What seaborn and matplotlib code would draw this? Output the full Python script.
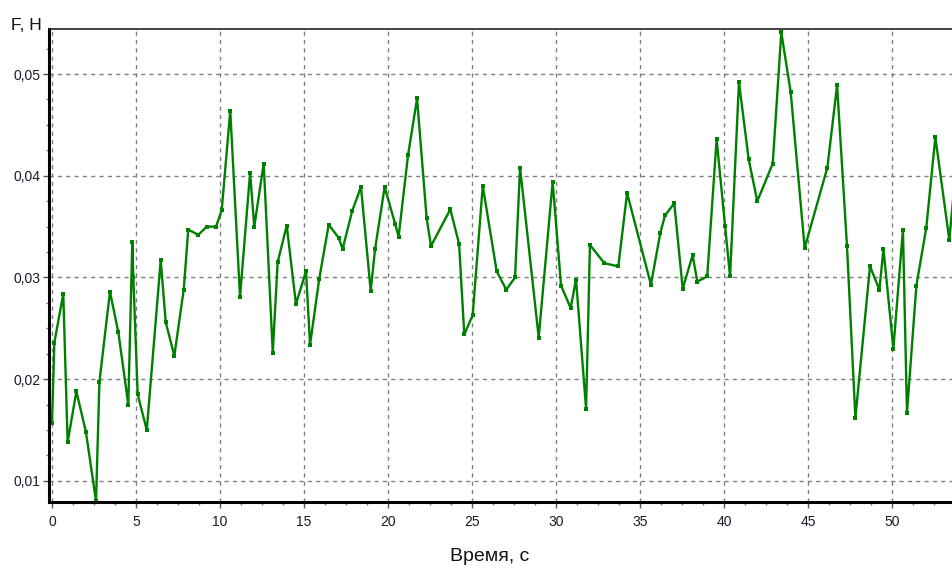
import seaborn as sns
import pandas as pd
import matplotlib.pyplot as plt
from matplotlib.ticker import MultipleLocator, FuncFormatter

# время, с
t = [0, 0.14, 0.67, 0.93, 1.45, 2.02, 2.62, 2.82, 3.45, 3.95,
     4.54, 4.78, 4.84, 5.10, 5.64, 6.47, 6.77, 7.28, 7.84, 8.11,
     8.71, 9.21, 9.76, 10.10, 10.61, 11.19, 11.79, 12.04, 12.60, 13.14,
     13.43, 13.97, 14.52, 15.12, 15.36, 15.91, 16.47, 17.06, 17.30, 17.86,
     18.39, 18.97, 19.23, 19.80, 20.42, 20.63, 21.19, 21.73, 22.30, 22.56,
     23.71, 24.23, 24.54, 25.04, 25.64, 26.47, 27.04, 27.56, 27.86, 28.97,
     29.80, 30.30, 30.87, 31.19, 31.79, 32.02, 32.88, 33.71, 34.23, 35.65,
     36.21, 36.49, 37.04, 37.54, 38.13, 38.41, 39.00, 39.56, 40.06, 40.36,
     40.89, 41.47, 41.98, 42.90, 43.41, 43.97, 44.80, 46.15, 46.73, 47.32,
     47.82, 48.69, 49.25, 49.49, 50.08, 50.65, 50.89, 51.45, 52.04, 52.58,
     53.41, 53.85]

# сила, Н
force = [0.0157, 0.0236, 0.0284, 0.0138, 0.0188, 0.0148, 0.0080, 0.0197, 0.0286, 0.0246,
         0.0175, 0.0335, 0.0300, 0.0185, 0.0150, 0.0317, 0.0256, 0.0223, 0.0288, 0.0347,
         0.0342, 0.0350, 0.0350, 0.0366, 0.0464, 0.0281, 0.0403, 0.0350, 0.0412, 0.0226,
         0.0315, 0.0351, 0.0274, 0.0306, 0.0234, 0.0299, 0.0352, 0.0339, 0.0328, 0.0365,
         0.0389, 0.0287, 0.0328, 0.0389, 0.0353, 0.0340, 0.0420, 0.0476, 0.0358, 0.0331,
         0.0367, 0.0333, 0.0244, 0.0263, 0.0390, 0.0306, 0.0288, 0.0300, 0.0408, 0.0241,
         0.0394, 0.0292, 0.0270, 0.0298, 0.0171, 0.0332, 0.0314, 0.0311, 0.0383, 0.0293,
         0.0344, 0.0361, 0.0373, 0.0289, 0.0322, 0.0296, 0.0301, 0.0436, 0.0351, 0.0301,
         0.0492, 0.0416, 0.0375, 0.0412, 0.0541, 0.0482, 0.0329, 0.0408, 0.0489, 0.0331,
         0.0162, 0.0311, 0.0288, 0.0328, 0.0230, 0.0347, 0.0167, 0.0292, 0.0349, 0.0438,
         0.0337, 0.0415]

df = pd.DataFrame({'t': t, 'F': force})

sns.set_style('white')
plt.rcParams['font.family'] = ['Liberation Sans', 'DejaVu Sans']
narrow = ['Liberation Sans Narrow', 'Liberation Sans', 'DejaVu Sans']

fig = plt.figure(figsize=(9.53, 5.70), dpi=100)
ax = fig.add_axes([0.0514, 0.1188, 0.9486, 0.8298])

sns.lineplot(data=df, x='t', y='F', ax=ax, color='#008000', linewidth=1.7,
             marker='s', markersize=3.2, markeredgewidth=0, sort=False,
             clip_on=True)

ax.set_xlim(-0.18, 53.63)
ax.set_ylim(0.0079, 0.0544)

ax.xaxis.set_major_locator(MultipleLocator(5))
ax.xaxis.set_minor_locator(MultipleLocator(1.25))
ax.yaxis.set_major_locator(MultipleLocator(0.01))
ax.yaxis.set_minor_locator(MultipleLocator(0.0025))
ax.yaxis.set_major_formatter(FuncFormatter(lambda v, p: f'{v:.2f}'.replace('.', ',')))
ax.xaxis.set_major_formatter(FuncFormatter(lambda v, p: f'{v:.0f}'))

ax.grid(True, which='major', color='#808080', linestyle=(0, (3, 3)), linewidth=1)
ax.tick_params(which='major', direction='out', length=4, width=1, color='#555555',
               labelsize=10, labelcolor='#1a1a2a', bottom=True, left=True)
ax.tick_params(axis='y', which='major', pad=2)
ax.tick_params(axis='x', which='major', pad=5)
ax.tick_params(which='minor', direction='out', length=2.5, width=1, color='#777777',
               bottom=True, left=True)
for lab in ax.get_xticklabels() + ax.get_yticklabels():
    lab.set_family(narrow)

for s in ['left', 'bottom']:
    ax.spines[s].set_linewidth(2.2)
    ax.spines[s].set_color('black')
ax.spines['top'].set_linewidth(1.2)
ax.spines['top'].set_color('#222222')
ax.spines['right'].set_visible(False)

ax.set_xlabel('')
ax.set_ylabel('')
fig.text(0.012, 0.955, 'F, H', fontsize=12.5, color='#111111', ha='left', va='center')
fig.text(0.514, 0.023, 'Время, с', fontsize=14, color='#111111', ha='center',
         va='center', family=narrow)

fig.savefig('out.png', dpi=100)
